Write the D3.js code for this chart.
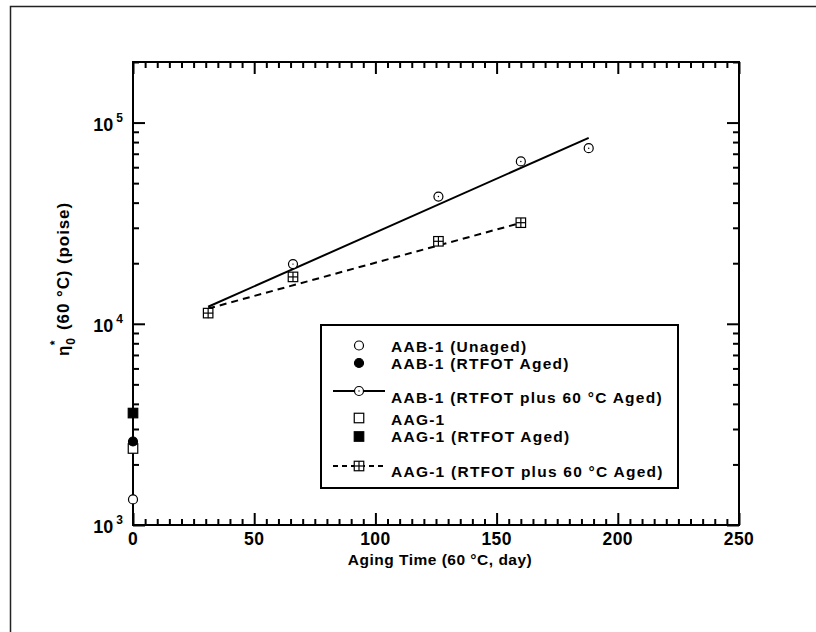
<!DOCTYPE html>
<html>
<head>
<meta charset="utf-8">
<script src="https://cdn.jsdelivr.net/npm/d3@7"></script>
<style>
  body { margin: 0; background: #fff; }
  svg { display: block; }
  text { font-family: "Liberation Sans", Arial, sans-serif; font-weight: bold; fill: #000; }
</style>
</head>
<body>
<svg id="chart" width="816" height="632"></svg>
<script>
// Zero-shear viscosity at 60 °C versus aging time at 60 °C
const xTickValues = [0, 50, 100, 150, 200, 250];
const yDecades = [1e3, 1e4, 1e5];

// Single measurements at day 0
const aabUnaged = [[0, 1340]];
const aabRtfot = [[0, 2600]];
const aagUnaged = [[0, 2400]];
const aagRtfot = [[0, 3600]];

// RTFOT + 60 °C aged series (days, poise)
const aabAgedDays = [31, 66, 126, 160, 188];
const aabAgedVisc = [11300, 19800, 42900, 64100, 74600];
const aagAgedDays = [31, 66, 126, 160];
const aagAgedVisc = [11300, 17100, 25700, 31800];

// Exponential fit lines (end points)
const aabFit = [[31, 12150], [188, 84000]];
const aagFit = [[31, 11900], [159, 31500]];

const svg = d3.select("#chart");

// outer figure frame
svg.append("rect")
  .attr("x", 10.5).attr("y", 6.5).attr("width", 900).attr("height", 700)
  .attr("fill", "none").attr("stroke", "#222").attr("stroke-width", 1.5);

const L = 133, R = 739, T = 62, B = 525;
const x = d3.scaleLinear().domain([0, 250]).range([L, R]);
const y = d3.scaleLog().domain([1000, 200000]).range([B, T]);

const xMinor = d3.range(0, 251, 5).filter(v => v % 50 !== 0);
const yMinor = [];
yDecades.forEach(d => { for (let k = 2; k <= 9; k++) if (d * k <= 200000) yMinor.push(d * k); });

function ticks(axis, tr, values, size) {
  svg.append("g").attr("transform", tr)
    .call(axis.tickValues(values).tickSize(size).tickFormat(""))
    .call(g => g.select(".domain").remove())
    .call(g => g.selectAll("line").attr("stroke", "#000").attr("stroke-width", 2));
}
ticks(d3.axisBottom(x), `translate(0,${B})`, xTickValues, -12);
ticks(d3.axisBottom(x), `translate(0,${B})`, xMinor, -6);
ticks(d3.axisTop(x), `translate(0,${T})`, xTickValues, -12);
ticks(d3.axisTop(x), `translate(0,${T})`, xMinor, -6);
ticks(d3.axisLeft(y), `translate(${L},0)`, yDecades, -12);
ticks(d3.axisLeft(y), `translate(${L},0)`, yMinor, -6);
ticks(d3.axisRight(y), `translate(${R},0)`, yDecades, -12);
ticks(d3.axisRight(y), `translate(${R},0)`, yMinor, -6);

svg.append("rect").attr("x", L).attr("y", T).attr("width", R - L).attr("height", B - T)
  .attr("fill", "none").attr("stroke", "#000").attr("stroke-width", 2);

// x tick labels
svg.append("g").selectAll("text").data(xTickValues).join("text")
  .attr("x", d => x(d)).attr("y", B + 20)
  .attr("text-anchor", "middle").attr("font-size", 17.5).attr("letter-spacing", 0.4)
  .text(d => d);

// y tick labels as powers of ten
const yl = svg.append("g").selectAll("text").data(yDecades).join("text")
  .attr("x", L - 10).attr("y", d => y(d) + 8)
  .attr("text-anchor", "end").attr("font-size", 18);
yl.append("tspan").text("10");
yl.append("tspan").attr("font-size", 12).attr("dy", -9).attr("dx", 3)
  .text(d => Math.round(Math.log10(d)));

// axis titles
svg.append("text").attr("x", 440).attr("y", 565)
  .attr("text-anchor", "middle").attr("font-size", 15.5).attr("letter-spacing", 0.5)
  .text("Aging Time (60 °C, day)");

const yt = svg.append("text")
  .attr("transform", `translate(69,279) rotate(-90)`)
  .attr("text-anchor", "middle").attr("font-size", 17).attr("letter-spacing", 0.9);
yt.append("tspan").text("η");
yt.append("tspan").attr("font-size", 12).attr("dy", 6).text("0");
yt.append("tspan").attr("font-size", 12).attr("dy", -16).attr("dx", -8).text("*");
yt.append("tspan").attr("dy", 10).attr("dx", 4).text(" (60 °C) (poise)");

// markers
function circle(g, cx, cy, fill, dot) {
  g.append("circle").attr("cx", cx).attr("cy", cy).attr("r", 4.5)
    .attr("fill", fill).attr("stroke", "#000").attr("stroke-width", 1.2);
  if (dot) g.append("circle").attr("cx", cx).attr("cy", cy).attr("r", 0.7).attr("fill", "#000");
}
function square(g, cx, cy, fill, cross) {
  const s = 9.5;
  g.append("rect").attr("x", cx - s / 2).attr("y", cy - s / 2).attr("width", s).attr("height", s)
    .attr("fill", fill).attr("stroke", "#000").attr("stroke-width", 1.2);
  if (cross) {
    g.append("line").attr("x1", cx - s / 2).attr("x2", cx + s / 2).attr("y1", cy).attr("y2", cy)
      .attr("stroke", "#000").attr("stroke-width", 1.2);
    g.append("line").attr("x1", cx).attr("x2", cx).attr("y1", cy - s / 2).attr("y2", cy + s / 2)
      .attr("stroke", "#000").attr("stroke-width", 1.2);
  }
}

const line = d3.line().x(d => x(d[0])).y(d => y(d[1]));
svg.append("path").datum(aabFit).attr("d", line)
  .attr("fill", "none").attr("stroke", "#000").attr("stroke-width", 2);
svg.append("path").datum(aagFit).attr("d", line)
  .attr("fill", "none").attr("stroke", "#000").attr("stroke-width", 2).attr("stroke-dasharray", "7,5");

const pts = svg.append("g");
aabAgedDays.forEach((d, i) => circle(pts, x(d), y(aabAgedVisc[i]), "#fff", true));
aagAgedDays.forEach((d, i) => square(pts, x(d), y(aagAgedVisc[i]), "#fff", true));
aagUnaged.forEach(d => square(pts, x(d[0]), y(d[1]), "#fff", false));
aabRtfot.forEach(d => circle(pts, x(d[0]), y(d[1]), "#000", false));
aagRtfot.forEach(d => square(pts, x(d[0]), y(d[1]), "#000", false));
aabUnaged.forEach(d => circle(pts, x(d[0]), y(d[1]), "#fff", false));

// legend
const lg = svg.append("g");
lg.append("rect").attr("x", 321).attr("y", 325).attr("width", 357).attr("height", 163)
  .attr("fill", "#fff").attr("stroke", "#000").attr("stroke-width", 2);
const sx = 359, tx = 391;
const legendRows = [
  { label: "AAB-1 (Unaged)", cy: 346.5 },
  { label: "AAB-1 (RTFOT Aged)", cy: 363 },
  { label: "AAB-1 (RTFOT plus 60 °C Aged)", cy: 397 },
  { label: "AAG-1", cy: 419 },
  { label: "AAG-1 (RTFOT Aged)", cy: 436.5 },
  { label: "AAG-1 (RTFOT plus 60 °C Aged)", cy: 471.5 }
];
legendRows.forEach(r => {
  lg.append("text").attr("x", tx).attr("y", r.cy + 5.5)
    .attr("font-size", 15.5).attr("letter-spacing", 1.25).text(r.label);
});
circle(lg, sx, legendRows[0].cy - 1, "#fff", false);
circle(lg, sx, legendRows[1].cy, "#000", false);
lg.append("line").attr("x1", 333).attr("x2", 385).attr("y1", 391).attr("y2", 391)
  .attr("stroke", "#000").attr("stroke-width", 2);
circle(lg, sx, 391, "#fff", true);
square(lg, sx, legendRows[3].cy - 1, "#fff", false);
square(lg, sx, legendRows[4].cy, "#000", false);
lg.append("line").attr("x1", 333).attr("x2", 385).attr("y1", 466).attr("y2", 466)
  .attr("stroke", "#000").attr("stroke-width", 2).attr("stroke-dasharray", "5,4");
square(lg, sx, 466, "#fff", true);
</script>
</body>
</html>
